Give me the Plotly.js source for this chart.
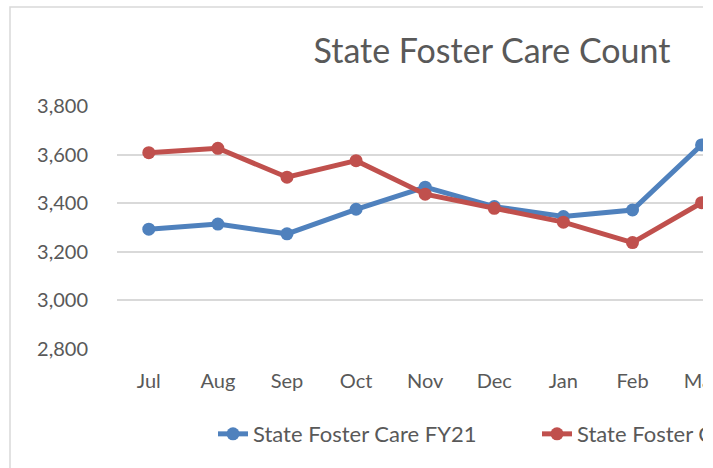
<!DOCTYPE html>
<html>
<head>
<meta charset="utf-8">
<script src="https://cdn.plot.ly/plotly-3.0.1.min.js"></script>
<style>
  html, body { margin: 0; padding: 0; background: #fff; }
  #wrap { width: 703px; height: 468px; overflow: hidden; }
  #chart { width: 1000px; height: 468px; }
</style>
</head>
<body>
<div id="wrap"><div id="chart"></div></div>
<script>
var months = ['Jul', 'Aug', 'Sep', 'Oct', 'Nov', 'Dec', 'Jan', 'Feb', 'Mar'];
var fy21 = [3293, 3314, 3274, 3375, 3466, 3386, 3345, 3372, 3640];
var fy22 = [3608, 3626, 3507, 3575, 3437, 3379, 3322, 3238, 3402];
var name21 = 'State Foster Care FY21';
var name22 = 'State Foster Care FY22';

var grey = '#595959';
var font = 'Lato, "Open Sans", sans-serif';

// plot area runs past the visible 703px; the wrapper crops it like the reference
var W = 1000, L = 117, R = 100;
var plotW = W - L - R;
var step = 69.1; // px per month

var trace1 = {
  x: months,
  y: fy21,
  mode: 'lines+markers',
  type: 'scatter',
  name: name21,
  line: {color: '#4f81bd', width: 5},
  marker: {color: '#4f81bd', size: 13},
  cliponaxis: false
};

var trace2 = {
  x: months,
  y: fy22,
  mode: 'lines+markers',
  type: 'scatter',
  name: name22,
  line: {color: '#c0504d', width: 5},
  marker: {color: '#c0504d', size: 13},
  cliponaxis: false
};

var data = [trace1, trace2];

var layout = {
  width: W,
  height: 468,
  margin: {l: L, r: R, t: 106, b: 119},
  paper_bgcolor: '#fff',
  plot_bgcolor: '#fff',
  font: {family: font, color: grey, size: 20},
  title: {
    text: 'State Foster Care Count',
    font: {family: font, size: 34, color: grey},
    x: 492 / W,
    xanchor: 'center',
    xref: 'container',
    y: 1 - 51 / 468,
    yanchor: 'middle',
    yref: 'container'
  },
  xaxis: {
    type: 'category',
    range: [-0.46, -0.46 + plotW / step],
    showgrid: false,
    zeroline: false,
    showline: false,
    ticks: '',
    ticklabelstandoff: 18,
    tickfont: {size: 20, color: grey}
  },
  yaxis: {
    range: [2800, 3800],
    dtick: 200,
    tickformat: ',d',
    gridcolor: '#d9d9d9',
    gridwidth: 1.5,
    zeroline: false,
    showline: false,
    ticks: '',
    ticklabelstandoff: 28,
    tickfont: {size: 20, color: grey}
  },
  showlegend: true,
  legend: {
    orientation: 'h',
    x: (213 - L) / plotW,
    xanchor: 'left',
    y: -0.35,
    yanchor: 'middle',
    font: {size: 22, color: grey},
    entrywidth: 279,
    entrywidthmode: 'pixels'
  },
  shapes: [{
    type: 'path',
    xref: 'paper',
    yref: 'paper',
    path: 'M ' + ((10 - L) / plotW) + ' ' + ((349 - 470) / 243) +
          ' L ' + ((10 - L) / plotW) + ' ' + ((349 - 7) / 243) +
          ' L ' + ((W - L) / plotW) + ' ' + ((349 - 7) / 243),
    line: {color: '#d9d9d9', width: 1.5}
  }]
};

Plotly.newPlot('chart', data, layout, {displayModeBar: false});
</script>
</body>
</html>
